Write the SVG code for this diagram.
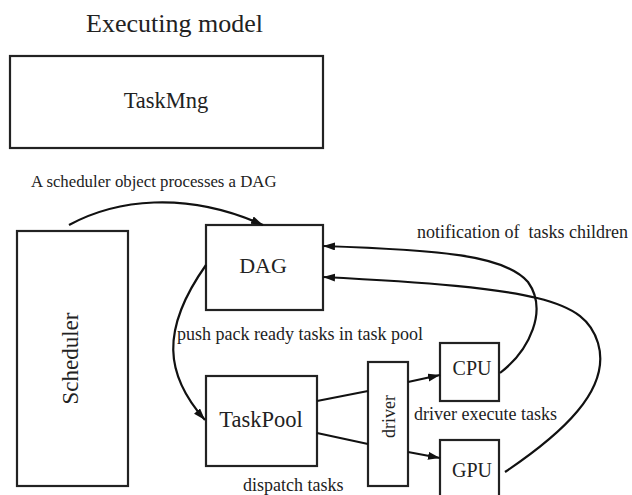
<svg xmlns="http://www.w3.org/2000/svg" width="632" height="495" viewBox="0 0 632 495">
<style>
.box{fill:#fff;stroke:#222;stroke-width:2.2}
.t{font-family:"Liberation Serif","Times New Roman",serif;fill:#222}
.c{fill:none;stroke:#111;stroke-width:2.2}
</style>
<defs>
<marker id="ah" markerUnits="userSpaceOnUse" markerWidth="14" markerHeight="10" refX="12" refY="4" orient="auto">
<path d="M0,0 L12,4 L0,8 z" fill="#111"/>
</marker>
</defs>
<rect width="632" height="495" fill="#fff"/>
<text class="t" x="174.5" y="32" font-size="26" text-anchor="middle">Executing model</text>
<g id="taskmng">
<rect class="box" x="10" y="56" width="313" height="92"/>
<text class="t" x="166" y="108" font-size="22.5" text-anchor="middle">TaskMng</text>
</g>
<text class="t" x="31" y="187" font-size="16.8">A scheduler object processes a DAG</text>
<g id="scheduler">
<rect class="box" x="17" y="231" width="111" height="255"/>
<text class="t" font-size="23" text-anchor="middle" transform="translate(78,358.5) rotate(-90)">Scheduler</text>
</g>
<g id="dag">
<rect class="box" x="206" y="225" width="117" height="85"/>
<text class="t" x="263" y="273" font-size="22" text-anchor="middle">DAG</text>
</g>
<g id="taskpool">
<rect class="box" x="206" y="376" width="111" height="90"/>
<text class="t" x="261" y="427" font-size="22.5" text-anchor="middle">TaskPool</text>
</g>
<g id="driver">
<rect class="box" x="368" y="362" width="40" height="124"/>
<text class="t" font-size="18" text-anchor="middle" transform="translate(395,416.5) rotate(-90)">driver</text>
</g>
<g id="cpu">
<rect class="box" x="440" y="343" width="59" height="58"/>
<text class="t" x="472" y="375" font-size="20" text-anchor="middle">CPU</text>
</g>
<g id="gpu">
<rect class="box" x="440" y="440" width="59" height="60"/>
<text class="t" x="472" y="477" font-size="20" text-anchor="middle">GPU</text>
</g>
<text class="t" x="417" y="238" font-size="18" style="white-space:pre" xml:space="preserve">notification of  tasks children</text>
<text class="t" x="177" y="340" font-size="18">push pack ready tasks in task pool</text>
<text class="t" x="414" y="420" font-size="18">driver execute tasks</text>
<text class="t" x="243" y="491" font-size="18">dispatch tasks</text>
<g id="connectors">
<path class="c" d="M69,225 C115,200 185,190 263,225" marker-end="url(#ah)"/>
<path class="c" d="M206,265 C160,330 165,375 205,420" marker-end="url(#ah)"/>
<path class="c" d="M500,373 C530,350 548,310 528,282 C505,255 440,250 323,246" marker-end="url(#ah)"/>
<path class="c" d="M505,472 C560,435 612,390 598,343 C585,300 540,288 323,277" marker-end="url(#ah)"/>
<path class="c" d="M317,401 L368,391"/>
<path class="c" d="M317,433 L368,444"/>
<path class="c" d="M408,382 L440,375" marker-end="url(#ah)"/>
<path class="c" d="M408,452 L440,458" marker-end="url(#ah)"/>
</g>
</svg>
